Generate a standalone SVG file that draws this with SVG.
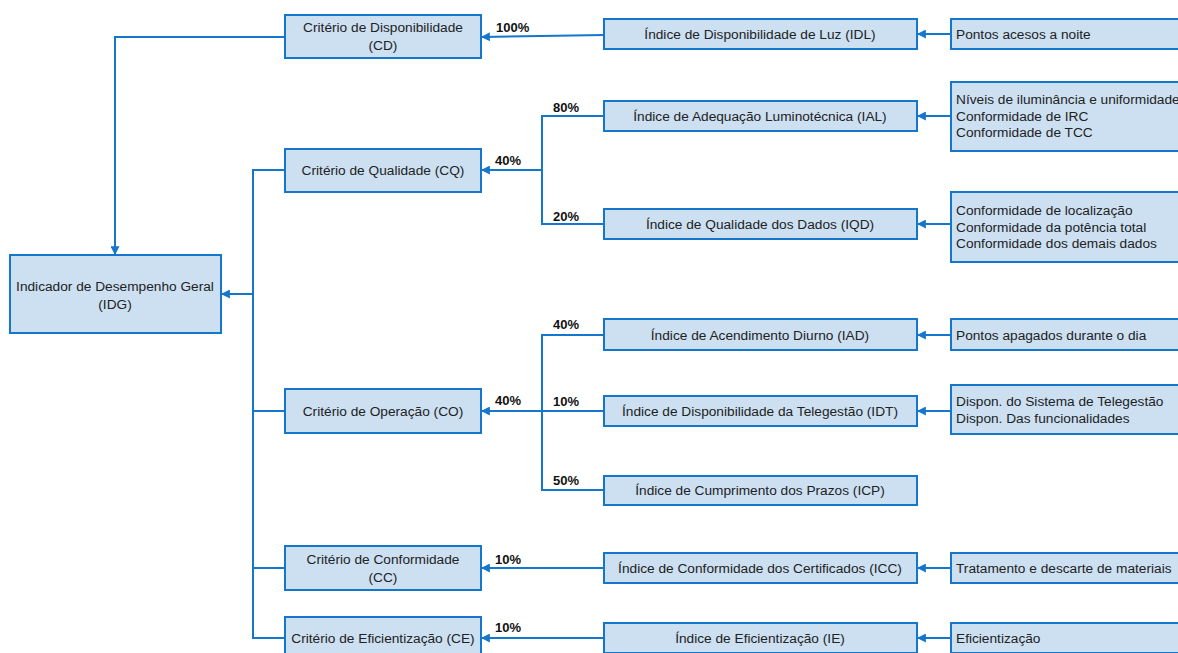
<svg xmlns="http://www.w3.org/2000/svg" width="1178" height="653" viewBox="0 0 1178 653">
<style>
.b{fill:#CCE0F2;stroke:#1577CC;stroke-width:2}
.t{font-family:"Liberation Sans",Arial,sans-serif;font-size:13.7px;fill:#222}
.c{text-anchor:middle}
.p{font-family:"Liberation Sans",Arial,sans-serif;font-size:13px;font-weight:bold;fill:#111}
.l{fill:none;stroke:#1577CC;stroke-width:2}
</style>
<defs>
<marker id="a" viewBox="0 0 8 8" refX="7" refY="4" markerWidth="4.5" markerHeight="4.5" orient="auto" markerUnits="strokeWidth">
<path d="M0,0 L8,4 L0,8 z" fill="#1577CC"/>
</marker>
</defs>
<rect width="1178" height="653" fill="#fff"/>
<g id="connectors">
<path class="l" d="M285,37 H115 V254" marker-end="url(#a)"/>
<path class="l" d="M285,170 H253 V638 H285"/>
<path class="l" d="M253,411 H285"/>
<path class="l" d="M253,568 H285"/>
<path class="l" d="M253,294 H222" marker-end="url(#a)"/>
<path class="l" d="M604,35 L482,37" marker-end="url(#a)"/>
<path class="l" d="M604,116 H542 V224 H604"/>
<path class="l" d="M542,170 H482" marker-end="url(#a)"/>
<path class="l" d="M604,335 H542 V490 H604"/>
<path class="l" d="M604,411 H542"/>
<path class="l" d="M542,411 H482" stroke-width="2.5" marker-end="url(#a)"/>
<path class="l" d="M604,568 H482" marker-end="url(#a)"/>
<path class="l" d="M604,638 H482" marker-end="url(#a)"/>
<path class="l" d="M951,34 H918" marker-end="url(#a)"/>
<path class="l" d="M951,116 H918" marker-end="url(#a)"/>
<path class="l" d="M951,224 H918" marker-end="url(#a)"/>
<path class="l" d="M951,335 H918" marker-end="url(#a)"/>
<path class="l" d="M951,411 H918" marker-end="url(#a)"/>
<path class="l" d="M951,568 H918" marker-end="url(#a)"/>
<path class="l" d="M951,638 H918" marker-end="url(#a)"/>
</g>
<g id="labels">
<text class="p" x="496" y="32">100%</text>
<text class="p" x="495" y="165">40%</text>
<text class="p" x="553" y="112">80%</text>
<text class="p" x="553" y="221">20%</text>
<text class="p" x="495" y="405">40%</text>
<text class="p" x="553" y="329">40%</text>
<text class="p" x="553" y="406">10%</text>
<text class="p" x="553" y="485">50%</text>
<text class="p" x="495" y="564">10%</text>
<text class="p" x="495" y="632">10%</text>
</g>
<g id="IDG"><rect class="b" x="10" y="255" width="211" height="78"/><text class="t c" x="115" y="291">Indicador de Desempenho Geral</text><text class="t c" x="115" y="309">(IDG)</text></g>
<g id="CD"><rect class="b" x="285" y="15" width="196" height="43"/><text class="t c" x="383" y="32">Critério de Disponibilidade</text><text class="t c" x="383" y="50">(CD)</text></g>
<g id="CQ"><rect class="b" x="285" y="149" width="196" height="43"/><text class="t c" x="383" y="175">Critério de Qualidade (CQ)</text></g>
<g id="CO"><rect class="b" x="285" y="389" width="196" height="44"/><text class="t c" x="383" y="416">Critério de Operação (CO)</text></g>
<g id="CC"><rect class="b" x="285" y="546" width="196" height="44"/><text class="t c" x="383" y="564">Critério de Conformidade</text><text class="t c" x="383" y="582">(CC)</text></g>
<g id="CE"><rect class="b" x="285" y="617" width="196" height="44"/><text class="t c" x="383" y="643">Critério de Eficientização (CE)</text></g>
<g id="IDL"><rect class="b" x="604" y="19" width="313" height="30"/><text class="t c" x="760" y="39">Índice de Disponibilidade de Luz (IDL)</text></g>
<g id="IAL"><rect class="b" x="604" y="101" width="313" height="30"/><text class="t c" x="760" y="121">Índice de Adequação Luminotécnica (IAL)</text></g>
<g id="IQD"><rect class="b" x="604" y="209" width="313" height="30"/><text class="t c" x="760" y="229">Índice de Qualidade dos Dados (IQD)</text></g>
<g id="IAD"><rect class="b" x="604" y="319" width="313" height="31"/><text class="t c" x="760" y="340">Índice de Acendimento Diurno (IAD)</text></g>
<g id="IDT"><rect class="b" x="604" y="396" width="313" height="30"/><text class="t c" x="760" y="416">Índice de Disponibilidade da Telegestão (IDT)</text></g>
<g id="ICP"><rect class="b" x="604" y="476" width="313" height="29"/><text class="t c" x="760" y="495">Índice de Cumprimento dos Prazos (ICP)</text></g>
<g id="ICC"><rect class="b" x="604" y="553" width="313" height="30"/><text class="t c" x="760" y="573">Índice de Conformidade dos Certificados (ICC)</text></g>
<g id="IE"><rect class="b" x="604" y="623" width="313" height="30"/><text class="t c" x="760" y="643">Índice de Eficientização (IE)</text></g>
<g id="R1"><rect class="b" x="951" y="19" width="240" height="30"/><text class="t" x="956" y="39">Pontos acesos a noite</text></g>
<g id="R2"><rect class="b" x="951" y="82" width="240" height="69"/><text class="t" x="956" y="104">Níveis de iluminância e uniformidade</text><text class="t" x="956" y="121">Conformidade de IRC</text><text class="t" x="956" y="137">Conformidade de TCC</text></g>
<g id="R3"><rect class="b" x="951" y="192" width="240" height="70"/><text class="t" x="956" y="215">Conformidade de localização</text><text class="t" x="956" y="232">Conformidade da potência total</text><text class="t" x="956" y="248">Conformidade dos demais dados</text></g>
<g id="R4"><rect class="b" x="951" y="319" width="240" height="31"/><text class="t" x="956" y="340">Pontos apagados durante o dia</text></g>
<g id="R5"><rect class="b" x="951" y="385" width="240" height="49"/><text class="t" x="956" y="406">Dispon. do Sistema de Telegestão</text><text class="t" x="956" y="423">Dispon. Das funcionalidades</text></g>
<g id="R6"><rect class="b" x="951" y="553" width="240" height="30"/><text class="t" x="956" y="573">Tratamento e descarte de materiais</text></g>
<g id="R7"><rect class="b" x="951" y="623" width="240" height="30"/><text class="t" x="956" y="643">Eficientização</text></g>
</svg>
